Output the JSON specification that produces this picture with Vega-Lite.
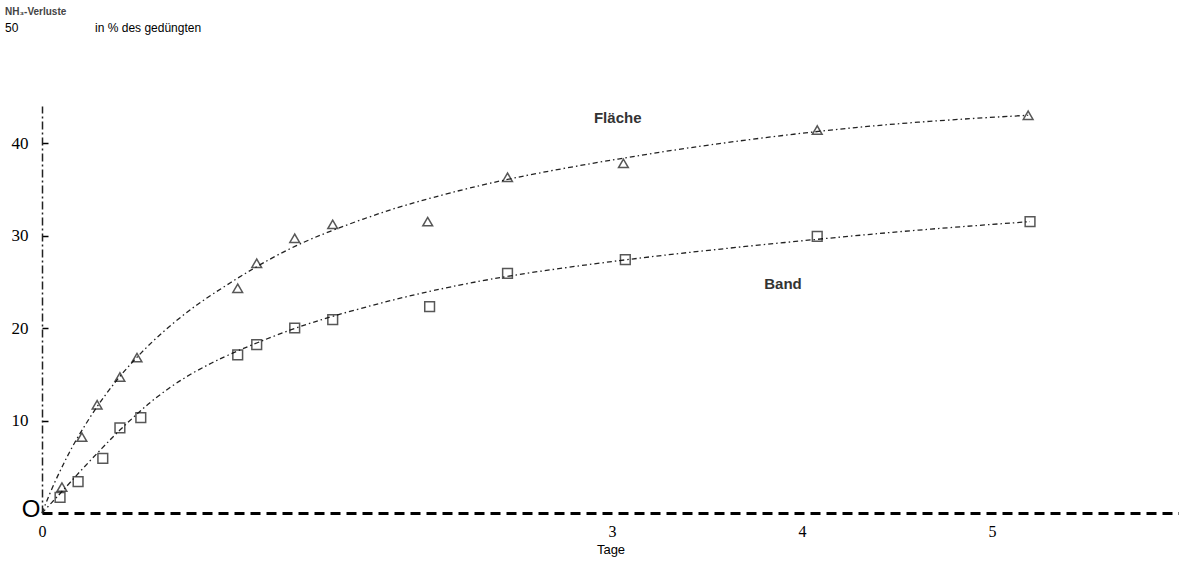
{
  "$schema": "https://vega.github.io/schema/vega-lite/v6.json",
  "width": 1137,
  "height": 407,
  "autosize": {"type": "none"},
  "padding": {"left": 42, "top": 106, "right": 0, "bottom": 51},
  "background": "white",
  "config": {"view": {"stroke": null}, "font": "Liberation Sans"},
  "title": {
    "text": "NH₃-Verluste",
    "subtitle": "50\u00a0\u00a0\u00a0\u00a0\u00a0\u00a0\u00a0\u00a0\u00a0\u00a0\u00a0\u00a0\u00a0\u00a0\u00a0\u00a0\u00a0\u00a0\u00a0\u00a0\u00a0\u00a0\u00a0in % des gedüngten",
    "anchor": "start",
    "frame": "group",
    "dx": -37,
    "offset": 72,
    "font": "Liberation Sans",
    "fontSize": 10,
    "fontWeight": "bold",
    "color": "#444",
    "subtitleFont": "Liberation Sans",
    "subtitleFontSize": 12,
    "subtitleColor": "#000",
    "subtitlePadding": 6
  },
  "datasets": {
    "points": [
      {"series": "Fläche", "tage": 0.105, "verlust": 2.8},
      {"series": "Fläche", "tage": 0.21, "verlust": 8.2},
      {"series": "Fläche", "tage": 0.29, "verlust": 11.7},
      {"series": "Fläche", "tage": 0.41, "verlust": 14.7},
      {"series": "Fläche", "tage": 0.5, "verlust": 16.8},
      {"series": "Fläche", "tage": 1.03, "verlust": 24.3},
      {"series": "Fläche", "tage": 1.13, "verlust": 27.0},
      {"series": "Fläche", "tage": 1.33, "verlust": 29.7},
      {"series": "Fläche", "tage": 1.53, "verlust": 31.2},
      {"series": "Fläche", "tage": 2.03, "verlust": 31.5},
      {"series": "Fläche", "tage": 2.45, "verlust": 36.3},
      {"series": "Fläche", "tage": 3.06, "verlust": 37.8},
      {"series": "Fläche", "tage": 4.08, "verlust": 41.4},
      {"series": "Fläche", "tage": 5.19, "verlust": 43.0},
      {"series": "Band", "tage": 0.095, "verlust": 1.7},
      {"series": "Band", "tage": 0.19, "verlust": 3.4},
      {"series": "Band", "tage": 0.32, "verlust": 5.9},
      {"series": "Band", "tage": 0.41, "verlust": 9.2},
      {"series": "Band", "tage": 0.52, "verlust": 10.3},
      {"series": "Band", "tage": 1.03, "verlust": 17.1},
      {"series": "Band", "tage": 1.13, "verlust": 18.2},
      {"series": "Band", "tage": 1.33, "verlust": 20.0},
      {"series": "Band", "tage": 1.53, "verlust": 20.9},
      {"series": "Band", "tage": 2.04, "verlust": 22.3},
      {"series": "Band", "tage": 2.45, "verlust": 25.9},
      {"series": "Band", "tage": 3.07, "verlust": 27.4},
      {"series": "Band", "tage": 4.08, "verlust": 29.9},
      {"series": "Band", "tage": 5.2, "verlust": 31.5}
    ],
    "curves": [
      {"series": "Fläche", "tage": 0, "verlust": 0},
      {"series": "Fläche", "tage": 0.05, "verlust": 2.6},
      {"series": "Fläche", "tage": 0.11, "verlust": 5.2},
      {"series": "Fläche", "tage": 0.17, "verlust": 7.6},
      {"series": "Fläche", "tage": 0.25, "verlust": 10.3},
      {"series": "Fläche", "tage": 0.34, "verlust": 13.0},
      {"series": "Fläche", "tage": 0.43, "verlust": 15.3},
      {"series": "Fläche", "tage": 0.52, "verlust": 17.3},
      {"series": "Fläche", "tage": 0.6, "verlust": 18.9},
      {"series": "Fläche", "tage": 0.7, "verlust": 20.7},
      {"series": "Fläche", "tage": 0.8, "verlust": 22.3},
      {"series": "Fläche", "tage": 0.9, "verlust": 23.7},
      {"series": "Fläche", "tage": 1.03, "verlust": 25.4},
      {"series": "Fläche", "tage": 1.15, "verlust": 26.9},
      {"series": "Fläche", "tage": 1.33, "verlust": 28.9},
      {"series": "Fläche", "tage": 1.53, "verlust": 30.6},
      {"series": "Fläche", "tage": 1.8, "verlust": 32.6},
      {"series": "Fläche", "tage": 2.03, "verlust": 34.0},
      {"series": "Fläche", "tage": 2.45, "verlust": 36.2},
      {"series": "Fläche", "tage": 3.06, "verlust": 38.4},
      {"series": "Fläche", "tage": 3.5, "verlust": 39.8},
      {"series": "Fläche", "tage": 4.08, "verlust": 41.3},
      {"series": "Fläche", "tage": 4.6, "verlust": 42.3},
      {"series": "Fläche", "tage": 5.19, "verlust": 43.0},
      {"series": "Band", "tage": 0, "verlust": 0},
      {"series": "Band", "tage": 0.05, "verlust": 1.1},
      {"series": "Band", "tage": 0.1, "verlust": 2.2},
      {"series": "Band", "tage": 0.2, "verlust": 4.5},
      {"series": "Band", "tage": 0.32, "verlust": 7.1},
      {"series": "Band", "tage": 0.41, "verlust": 9.0},
      {"series": "Band", "tage": 0.5, "verlust": 10.7},
      {"series": "Band", "tage": 0.57, "verlust": 12.0},
      {"series": "Band", "tage": 0.68, "verlust": 13.7},
      {"series": "Band", "tage": 0.78, "verlust": 15.0},
      {"series": "Band", "tage": 0.88, "verlust": 16.1},
      {"series": "Band", "tage": 0.97, "verlust": 17.0},
      {"series": "Band", "tage": 1.13, "verlust": 18.4},
      {"series": "Band", "tage": 1.33, "verlust": 20.0},
      {"series": "Band", "tage": 1.53, "verlust": 21.3},
      {"series": "Band", "tage": 1.8, "verlust": 22.8},
      {"series": "Band", "tage": 2.04, "verlust": 24.0},
      {"series": "Band", "tage": 2.45, "verlust": 25.7},
      {"series": "Band", "tage": 3.07, "verlust": 27.4},
      {"series": "Band", "tage": 3.5, "verlust": 28.4},
      {"series": "Band", "tage": 4.08, "verlust": 29.6},
      {"series": "Band", "tage": 4.6, "verlust": 30.6},
      {"series": "Band", "tage": 5.2, "verlust": 31.5}
    ],
    "labels": [
      {"text": "Fläche", "tage": 3.03, "verlust": 42.7},
      {"text": "Band", "tage": 3.9, "verlust": 24.8}
    ],
    "origin": [
      {"text": "O", "tage": 0, "verlust": 0}
    ]
  },
  "layer": [
    {
      "data": {"name": "curves"},
      "mark": {"type": "line", "interpolate": "basis", "color": "#222", "strokeWidth": 1.3, "strokeDash": [5, 3, 1.5, 3]},
      "encoding": {
        "x": {
          "field": "tage", "type": "quantitative",
          "scale": {"domain": [0, 5.984], "nice": false, "zero": false},
          "axis": {
            "values": [0, 3, 4, 5],
            "format": "d",
            "ticks": false,
            "grid": false,
            "domainColor": "#000",
            "domainWidth": 3,
            "domainDash": [10, 6],
            "labelFont": "Liberation Serif",
            "labelFontSize": 16,
            "labelColor": "#000",
            "labelPadding": 10,
            "labelFlush": false,
            "title": "Tage",
            "titleFont": "Liberation Sans",
            "titleFontSize": 13,
            "titleFontWeight": "normal",
            "titleColor": "#000",
            "titlePadding": 4
          }
        },
        "y": {
          "field": "verlust", "type": "quantitative",
          "scale": {"domain": [0, 44], "nice": false, "zero": false},
          "axis": {
            "values": [10, 20, 30, 40],
            "grid": false,
            "domainColor": "#222",
            "domainWidth": 1.5,
            "domainDash": [8, 3, 2, 3],
            "ticks": true,
            "tickSize": -6,
            "tickWidth": 1.5,
            "tickColor": "#000",
            "labelFont": "Liberation Serif",
            "labelFontSize": 17,
            "labelColor": "#000",
            "labelPadding": 20,
            "title": null
          }
        },
        "detail": {"field": "series", "type": "nominal"}
      }
    },
    {
      "data": {"name": "points"},
      "mark": {"type": "point", "filled": false, "color": "#111", "strokeWidth": 1.5, "size": 95},
      "encoding": {
        "x": {"field": "tage", "type": "quantitative"},
        "y": {"field": "verlust", "type": "quantitative"},
        "shape": {
          "field": "series", "type": "nominal",
          "scale": {"domain": ["Fläche", "Band"], "range": ["triangle-up", "square"]},
          "legend": null
        }
      }
    },
    {
      "data": {"name": "labels"},
      "mark": {"type": "text", "font": "Liberation Sans", "fontSize": 15, "fontWeight": "bold", "color": "#333", "align": "center", "baseline": "middle"},
      "encoding": {
        "x": {"field": "tage", "type": "quantitative"},
        "y": {"field": "verlust", "type": "quantitative"},
        "text": {"field": "text"}
      }
    },
    {
      "data": {"name": "origin"},
      "mark": {"type": "text", "font": "Liberation Sans", "fontSize": 24, "color": "#000", "align": "center", "baseline": "middle", "dx": -11, "dy": -3},
      "encoding": {
        "x": {"field": "tage", "type": "quantitative"},
        "y": {"field": "verlust", "type": "quantitative"},
        "text": {"field": "text"}
      }
    }
  ]
}
